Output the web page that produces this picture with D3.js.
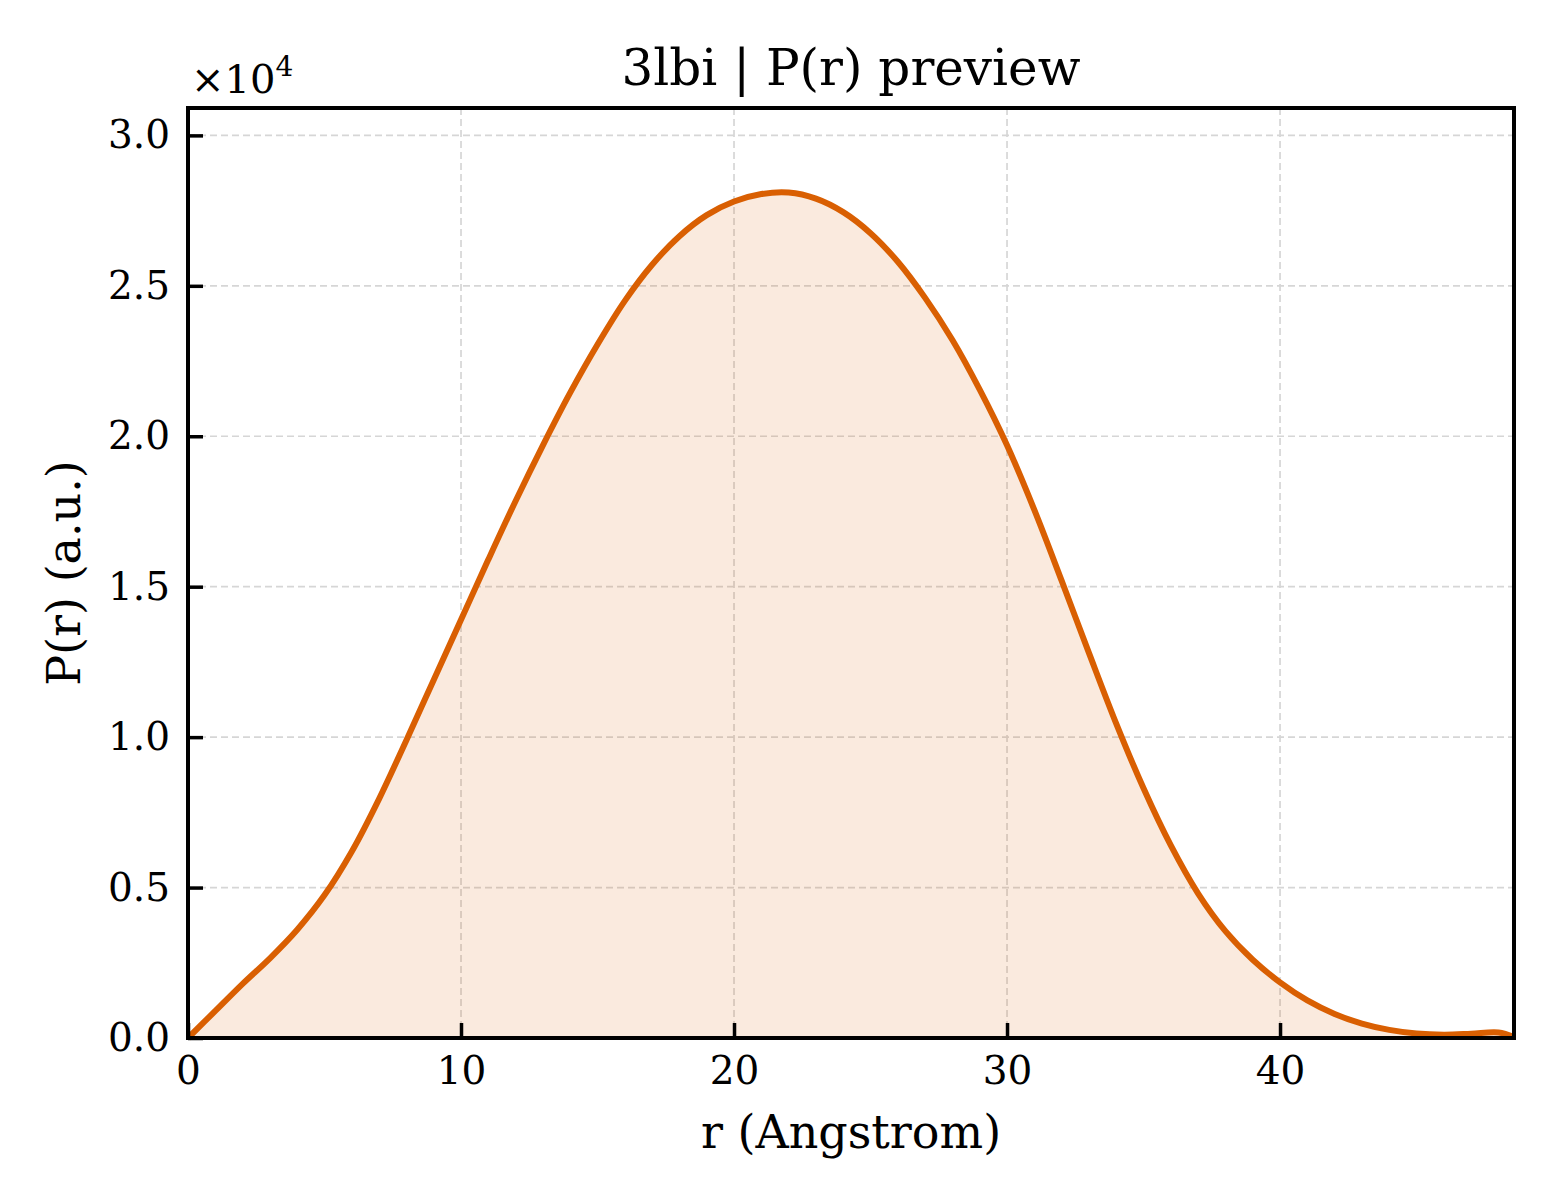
<!DOCTYPE html>
<html>
<head>
<meta charset="utf-8">
<script src="https://cdn.jsdelivr.net/npm/d3@7"></script>
<style>
  body { margin: 0; background: #fff; }
  svg text { font-family: "DejaVu Serif", serif; fill: #000; }
</style>
</head>
<body>
<div class="chart"></div>
<script>
// P(r) curve, r in Angstrom, P in a.u.
var rValues = [0, 1, 2, 3, 4, 5, 6, 7, 8, 9, 10, 11, 12, 13, 14, 15, 16, 17, 18, 19, 20,
               21, 22, 23, 24, 25, 26, 27, 28, 29, 30, 31, 32, 33, 34, 35, 36, 37, 38, 39, 40,
               41, 42, 43, 44, 45, 46, 47, 48, 48.57];
var pValues = [0, 900, 1800, 2650, 3600, 4750, 6200, 7950, 9900, 11900, 13900,
               15900, 17850, 19700, 21450, 23050, 24500, 25700, 26650, 27350, 27800,
               28050, 28100, 27900, 27450, 26750, 25800, 24600, 23200, 21550, 19700,
               17550, 15200, 12800, 10450, 8300, 6400, 4800, 3550, 2600, 1850,
               1250, 800, 480, 270, 150, 110, 140, 180, 30];
var xTicks = [0, 10, 20, 30, 40];
var yTicks = [0, 5000, 10000, 15000, 20000, 25000, 30000];

var titleText = "3lbi | P(r) preview";
var xLabel = "r (Angstrom)";
var yLabel = "P(r) (a.u.)";

function init(){
    var W = 1560, H = 1200;
    var left = 188, right = 1514, top = 108, bottom = 1038;
    var color = "#d95f02";

    var data = rValues.map(function(r, i){ return {r: r, p: pValues[i]}; });

    var svg = d3.select(".chart")
                .append("svg")
                .attr("width", W)
                .attr("height", H);

    var x = d3.scaleLinear().domain([0, 48.57]).range([left, right]);
    var y = d3.scaleLinear().domain([0, 30910]).range([bottom, top]);

    // grid
    svg.append("g").selectAll("line")
        .data(xTicks.filter(function(d){ return d > 0; }))
        .enter().append("line")
        .attr("x1", function(d){ return x(d); })
        .attr("x2", function(d){ return x(d); })
        .attr("y1", top).attr("y2", bottom)
        .attr("stroke", "#d6d6d6").attr("stroke-width", 1.7)
        .attr("stroke-dasharray", "7,4");
    svg.append("g").selectAll("line")
        .data(yTicks.filter(function(d){ return d > 0; }))
        .enter().append("line")
        .attr("y1", function(d){ return y(d); })
        .attr("y2", function(d){ return y(d); })
        .attr("x1", left).attr("x2", right)
        .attr("stroke", "#d6d6d6").attr("stroke-width", 1.7)
        .attr("stroke-dasharray", "7,4");

    var area = d3.area()
        .x(function(d){ return x(d.r); })
        .y0(y(0))
        .y1(function(d){ return y(d.p); })
        .curve(d3.curveCatmullRom.alpha(0.5));
    var line = d3.line()
        .x(function(d){ return x(d.r); })
        .y(function(d){ return y(d.p); })
        .curve(d3.curveCatmullRom.alpha(0.5));

    svg.append("path").datum(data)
        .attr("d", area)
        .attr("fill", color).attr("fill-opacity", 0.13);
    svg.append("path").datum(data)
        .attr("d", line)
        .attr("fill", "none")
        .attr("stroke", color).attr("stroke-width", 6)
        .attr("stroke-linejoin", "round");

    // axes, ticks pointing inward
    var xAxis = d3.axisBottom(x).tickValues(xTicks).tickSize(-15).tickPadding(18)
        .tickFormat(d3.format("d"));
    var gx = svg.append("g").attr("transform", "translate(0," + bottom + ")").call(xAxis);
    var yAxis = d3.axisLeft(y).tickValues(yTicks).tickSize(-15).tickPadding(18)
        .tickFormat(function(d){ return (d / 10000).toFixed(1); });
    var gy = svg.append("g").attr("transform", "translate(" + left + ",0)").call(yAxis);

    [gx, gy].forEach(function(g){
        g.select(".domain").remove();
        g.selectAll(".tick line").attr("stroke", "#000").attr("stroke-width", 3.5);
        g.selectAll(".tick text").attr("font-size", 39)
            .style("font-family", "'DejaVu Serif', serif");
    });

    // frame
    svg.append("rect")
        .attr("x", left).attr("y", top)
        .attr("width", right - left).attr("height", bottom - top)
        .attr("fill", "none").attr("stroke", "#000").attr("stroke-width", 4);

    // offset text
    var off = svg.append("text").attr("x", 191).attr("y", 93).attr("font-size", 40);
    off.append("tspan").text("\u00d710");
    off.append("tspan").attr("font-size", 28).attr("dy", -17).text("4");

    svg.append("text")
        .attr("x", (left + right) / 2).attr("y", 85)
        .attr("text-anchor", "middle").attr("font-size", 50)
        .text(titleText);

    svg.append("text")
        .attr("x", (left + right) / 2).attr("y", 1148)
        .attr("text-anchor", "middle").attr("font-size", 46)
        .text(xLabel);

    svg.append("text")
        .attr("transform", "translate(80," + (top + bottom) / 2 + ") rotate(-90)")
        .attr("text-anchor", "middle").attr("font-size", 46)
        .text(yLabel);
}
window.onload = init;
</script>
</body>
</html>
